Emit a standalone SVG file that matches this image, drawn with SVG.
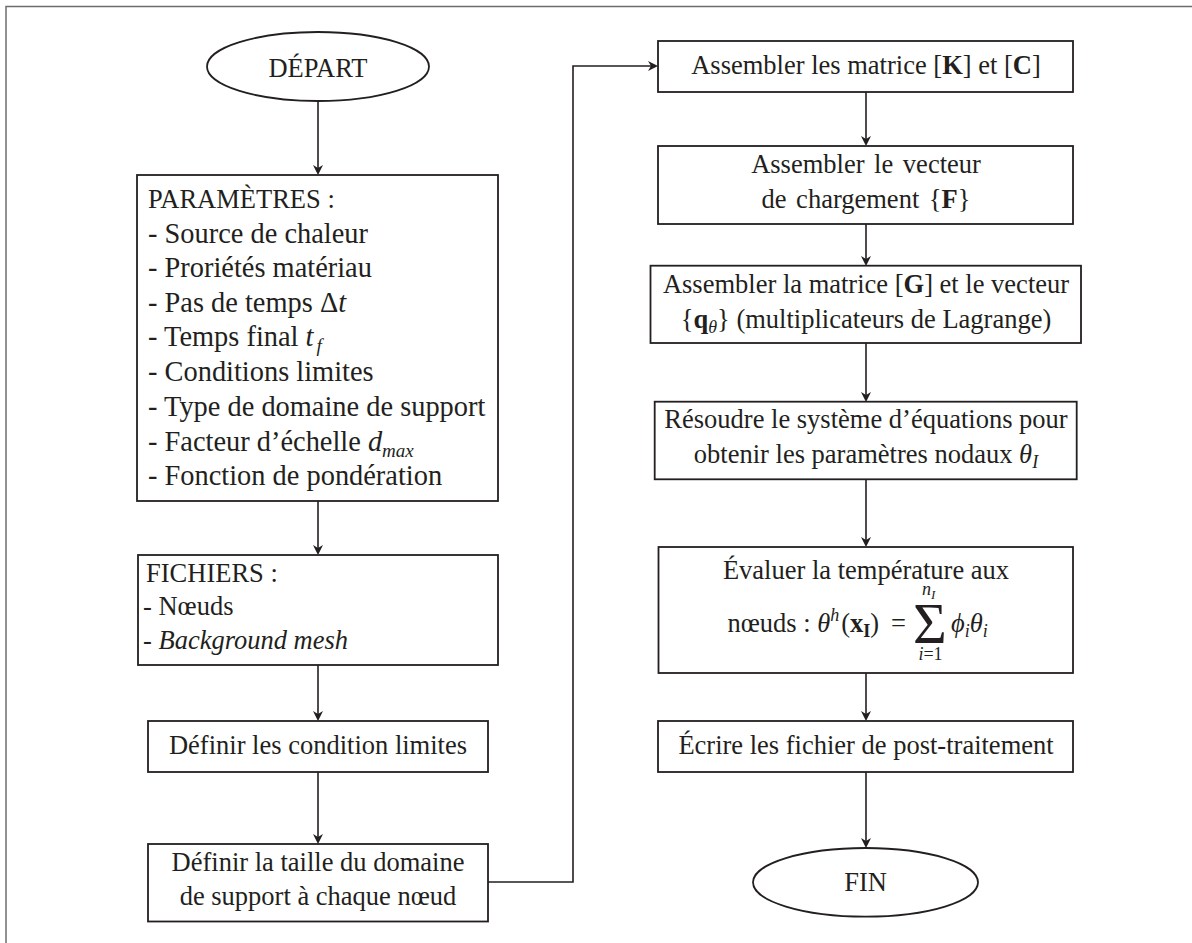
<svg xmlns="http://www.w3.org/2000/svg" width="1192" height="943" viewBox="0 0 1192 943">
<defs>
<style>
text{font-family:"Liberation Serif","DejaVu Serif",serif;font-size:26.5px;fill:#231f20}
.c{text-anchor:middle}
.i{font-style:italic}
.b{font-weight:bold}
.s{font-size:18px}
.p{font-size:28.4px}
.p .s{font-size:19px}
.box{fill:#fff;stroke:#231f20;stroke-width:1.8}
.con{fill:none;stroke:#231f20;stroke-width:1.6}
.frame{fill:none;stroke:#6d6d6d;stroke-width:1.5}
</style>
<marker id="ah" viewBox="-10 -6 13 12" refX="0" refY="0" markerWidth="13" markerHeight="12" markerUnits="userSpaceOnUse" orient="auto">
<path d="M2,0 L-8,-5 L-5,0 L-8,5 Z" fill="#231f20"/>
</marker>
</defs>
<rect width="1192" height="943" fill="#fff"/>
<path class="frame" d="M6,943 V6.5 H1192"/>

<g id="connectors">
<path class="con" d="M318,101 V173" marker-end="url(#ah)"/>
<path class="con" d="M318,501 V553" marker-end="url(#ah)"/>
<path class="con" d="M318,665 V719" marker-end="url(#ah)"/>
<path class="con" d="M318,772 V842" marker-end="url(#ah)"/>
<path class="con" d="M488,882 H573 V66 H656" marker-end="url(#ah)"/>
<path class="con" d="M866,92 V144" marker-end="url(#ah)"/>
<path class="con" d="M866,224 V264" marker-end="url(#ah)"/>
<path class="con" d="M866,343 V400" marker-end="url(#ah)"/>
<path class="con" d="M866,479 V545" marker-end="url(#ah)"/>
<path class="con" d="M866,673 V719" marker-end="url(#ah)"/>
<path class="con" d="M866,772 V846" marker-end="url(#ah)"/>
</g>

<g id="depart">
<ellipse class="box" cx="318" cy="66.5" rx="111" ry="34.5"/>
<text class="c" x="318" y="77">DÉPART</text>
</g>

<g id="parametres">
<rect class="box" x="137" y="175" width="361" height="326"/>
<text x="148" y="208">PARAMÈTRES :</text>
<text class="p" x="148" y="242.5">- Source de chaleur</text>
<text class="p" x="148" y="277">- Proriétés matériau</text>
<text class="p" x="148" y="311.7">- Pas de temps Δ<tspan class="i">t</tspan></text>
<text class="p" x="148" y="346.4">- Temps final <tspan class="i">t</tspan><tspan class="i s" dx="3" dy="6">f</tspan></text>
<text class="p" x="148" y="381">- Conditions limites</text>
<text class="p" x="148" y="415.8">- Type de domaine de support</text>
<text class="p" x="148" y="450.5">- Facteur d’échelle <tspan class="i">d</tspan><tspan class="i s" dy="6">max</tspan></text>
<text class="p" x="148" y="485.2">- Fonction de pondération</text>
</g>

<g id="fichiers">
<rect class="box" x="138" y="555" width="360" height="110"/>
<text x="146" y="581.7">FICHIERS :</text>
<text x="143" y="615">- Nœuds</text>
<text x="143" y="649">- <tspan class="i">Background mesh</tspan></text>
</g>

<g id="conditions">
<rect class="box" x="148" y="721" width="340" height="51"/>
<text class="c" x="318" y="754">Définir les condition limites</text>
</g>

<g id="taille">
<rect class="box" x="148" y="844" width="340" height="77.5"/>
<text class="c" x="318" y="870.7">Définir la taille du domaine</text>
<text class="c" x="318" y="905">de support à chaque nœud</text>
</g>

<g id="assembler-kc">
<rect class="box" x="658" y="41" width="415" height="51"/>
<text class="c" x="866" y="74">Assembler les matrice [<tspan class="b">K</tspan>] et [<tspan class="b">C</tspan>]</text>
</g>

<g id="assembler-f">
<rect class="box" x="658" y="146" width="415" height="78"/>
<text class="c" x="866" y="173" word-spacing="3">Assembler le vecteur</text>
<text class="c" x="866" y="208" word-spacing="3">de chargement {<tspan class="b">F</tspan>}</text>
</g>

<g id="assembler-g">
<rect class="box" x="650.5" y="265.7" width="430.5" height="77.3"/>
<text class="c" x="866" y="293">Assembler la matrice [<tspan class="b">G</tspan>] et le vecteur</text>
<text class="c" x="866" y="328">{<tspan class="b">q</tspan><tspan class="i s" dy="5">θ</tspan><tspan dy="-5">} (multiplicateurs de Lagrange)</tspan></text>
</g>

<g id="resoudre">
<rect class="box" x="654.7" y="401.7" width="422" height="77.6"/>
<text class="c" x="866" y="428">Résoudre le système d’équations pour</text>
<text class="c" x="866" y="463">obtenir les paramètres nodaux <tspan class="i">θ</tspan><tspan class="i s" dy="5">I</tspan></text>
</g>

<g id="evaluer">
<rect class="box" x="658.5" y="547" width="414.5" height="126"/>
<text class="c" x="866" y="579">Évaluer la température aux</text>
<text x="727.4" y="631.7">nœuds : <tspan class="i">θ</tspan><tspan class="i s" dy="-11">h</tspan><tspan dy="11" dx="2">(</tspan><tspan class="b">x</tspan><tspan class="b s" dy="5">I</tspan><tspan dy="-5">)</tspan></text>
<text x="891" y="631.7">=</text>
<text class="c" x="930" y="643" style="font-size:58px">Σ</text>
<text x="951" y="631.7" class="i">ϕ<tspan class="s" dy="5">i</tspan><tspan dy="-5">θ</tspan><tspan class="s" dy="5">i</tspan></text>
<text x="922" y="595" class="i s">n<tspan style="font-size:13px" dy="4">I</tspan></text>
<text class="c s" x="930.5" y="660"><tspan class="i">i</tspan>=1</text>
</g>

<g id="ecrire">
<rect class="box" x="658" y="721" width="415" height="51"/>
<text class="c" x="866" y="754">Écrire les fichier de post-traitement</text>
</g>

<g id="fin">
<ellipse class="box" cx="865.5" cy="882.3" rx="112.5" ry="34.3"/>
<text class="c" x="865.5" y="890.7">FIN</text>
</g>
</svg>
